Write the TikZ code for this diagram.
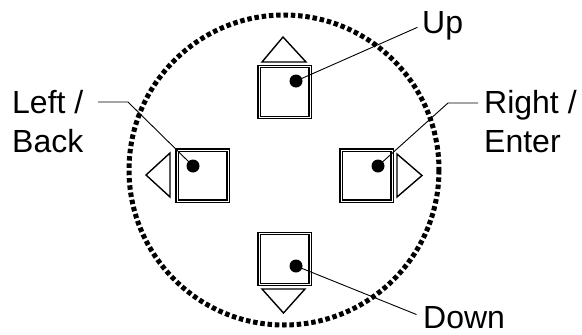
\documentclass[tikz,border=0pt]{standalone}
\usepackage{fontspec}
\setmainfont{Liberation Sans}
\begin{document}
\begin{tikzpicture}[x=1pt,y=-1pt,
  key/.style={draw,double,double distance=0.6pt,line width=1.3pt,minimum size=51pt,inner sep=0pt},
  led/.style={circle,fill,inner sep=0pt,minimum size=13pt},
  arrowhead/.style={line width=1.4pt,line join=miter},
  lbl/.style={font=\fontsize{32}{39}\selectfont,inner sep=0pt,align=left},
  leader/.style={line width=0.9pt}]
  \useasboundingbox (0,0) rectangle (582,335);
  % Dotted outline
  \draw[line width=5pt,dash pattern=on 4.5pt off 2.8pt] (284,170) circle (155);
  % Keys
  \node[key] (up) at (284.5,92) {};
  \node[key] (left) at (202.5,175.5) {};
  \node[key] (right) at (366.5,175.5) {};
  \node[key] (down) at (284.5,259) {};
  % Arrow marks
  \draw[arrowhead] (262,62) -- (283,37) -- (306,62) -- cycle;
  \draw[arrowhead] (170,153) -- (146,175) -- (170,197) -- cycle;
  \draw[arrowhead] (397,154) -- (422,175.5) -- (397,197) -- cycle;
  \draw[arrowhead] (262,289) -- (283.5,313) -- (305,289) -- cycle;
  % Dots
  \node[led] (upled) at (296,81) {};
  \node[led] (leftled) at (193,166) {};
  \node[led] (rightled) at (378,166) {};
  \node[led] (downled) at (296,266) {};
  % Labels
  \node[lbl,anchor=base west] (uplbl) at (422,33) {Up};
  \node[lbl,anchor=base west] (downlbl) at (423,328) {Down};
  \node[lbl,anchor=north west] (leftlbl) at (12,90) {Left /\\Back};
  \node[lbl,anchor=north west] (rightlbl) at (484,90) {Right /\\Enter};
  % Leader lines
  \coordinate (leftknee) at (128,102);
  \coordinate (rightknee) at (448,103);
  \draw[leader,shorten >=5pt] (upled.center) -- (uplbl.west);
  \draw[leader,shorten >=7pt] (downled.center) -- (downlbl.west);
  \draw[leader] (leftled.center) -- (leftknee) -- (98,102);
  \draw[leader] (rightled.center) -- (rightknee) -- (478,103);
\end{tikzpicture}
\end{document}
